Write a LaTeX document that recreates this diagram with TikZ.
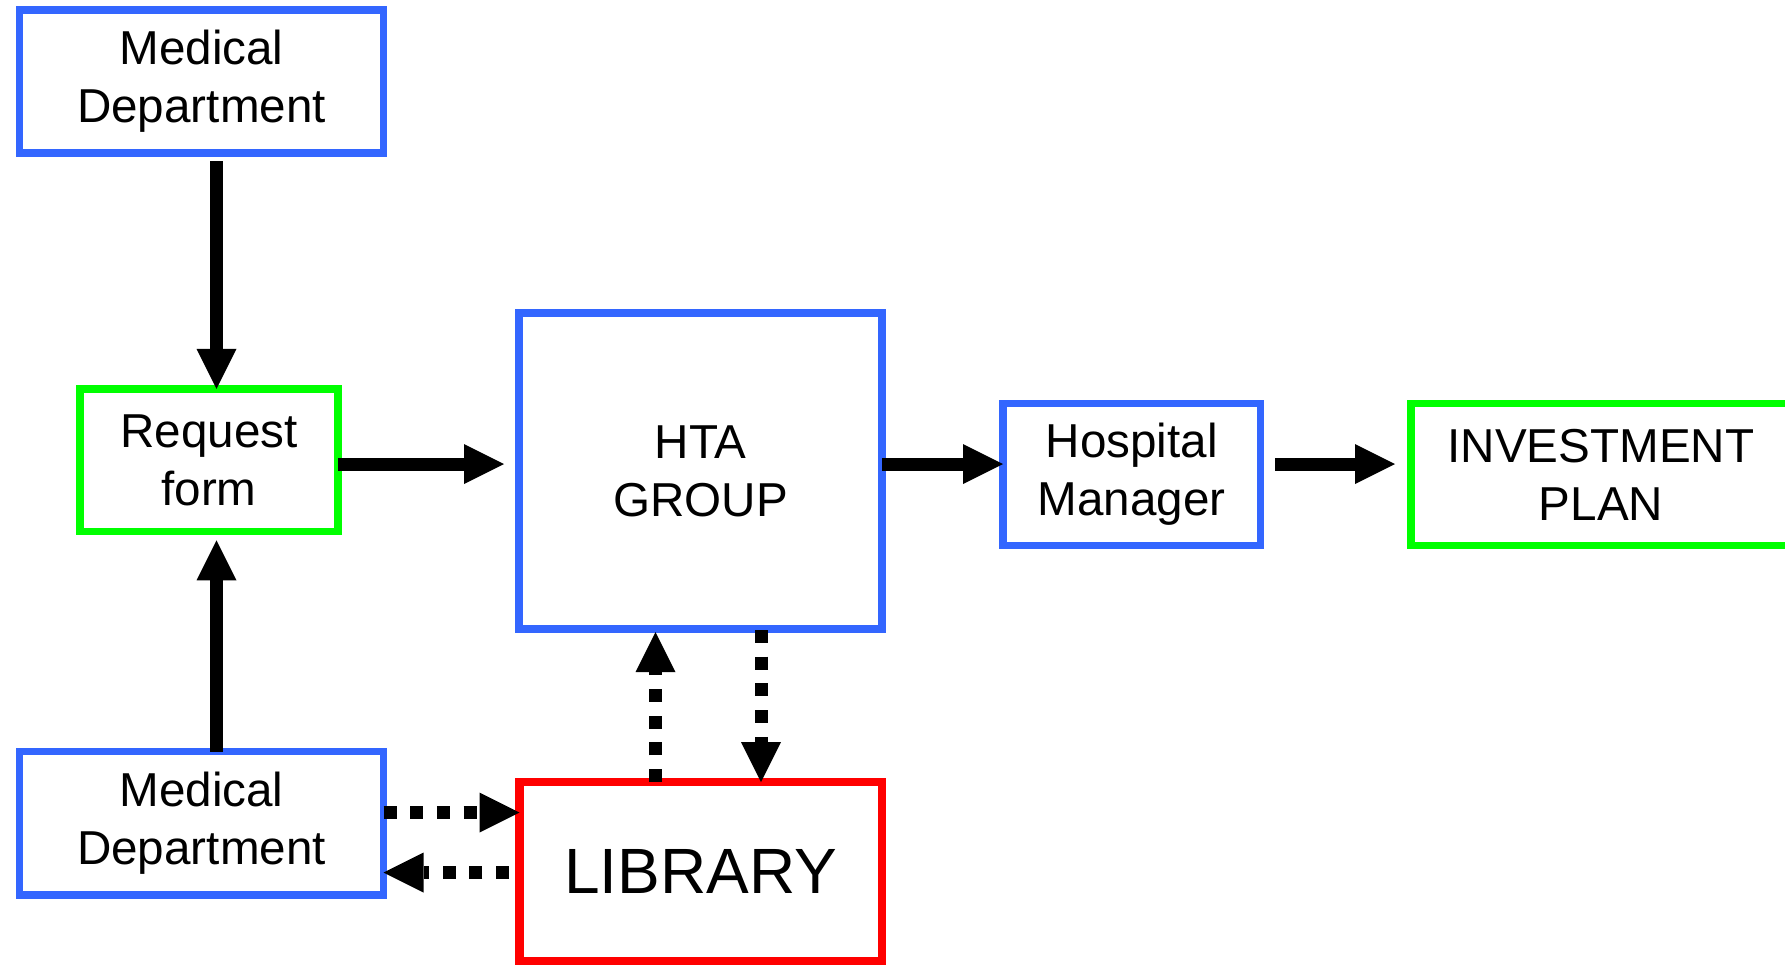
\documentclass[tikz,border=0pt]{standalone}
\usepackage{fontspec}
\setmainfont{Liberation Sans}
\usetikzlibrary{arrows.meta,calc}
\definecolor{bblue}{RGB}{51,102,255}
\definecolor{bgreen}{RGB}{0,255,0}
\definecolor{bred}{RGB}{255,0,0}
\tikzset{
  box/.style={draw, rectangle, outer sep=0pt, inner sep=0pt, align=center,
    font=\fontsize{23.8pt}{29pt}\selectfont, text=black},
  bluebox/.style={box, draw=bblue, line width=3.75pt},
  greenbox/.style={box, draw=bgreen, line width=3.75pt},
  redbox/.style={box, draw=bred, line width=4.25pt},
  arr/.style={line width=6.5pt, line cap=butt, black,
    -{Triangle[length=20pt,width=20pt,line width=0pt]}},
  dotarr/.style={arr, dash pattern=on 6.5pt off 6.85pt}
}
\begin{document}
\begin{tikzpicture}[x=0.5pt,y=-0.5pt]
\useasboundingbox (0,0) rectangle (1785,965);
\clip (0,0) rectangle (1785,965);
\fill[white] (0,0) rectangle (1785,965);

\node[bluebox, minimum width=182pt, minimum height=71.5pt] (md1) at (201.5,81.5) {\raisebox{-1.5pt}{Medical}\\\raisebox{-1.5pt}{Department}};
\node[greenbox, minimum width=129pt, minimum height=71.25pt] (req) at (209,460) {Request\\form};
\node[bluebox, minimum width=181.5pt, minimum height=158pt] (hta) at (700.5,471) {HTA\\GROUP};
\node[bluebox, minimum width=128.75pt, minimum height=71pt] (hm) at (1131.75,474.5) {Hospital\\Manager};
\node[greenbox, minimum width=190pt, minimum height=71pt] (ip) at (1601,474.5) {INVESTMENT\\PLAN};
\node[bluebox, minimum width=182pt, minimum height=71.75pt] (md2) at (201.5,823.25) {Medical\\Department};
\node[redbox, minimum width=181.25pt, minimum height=89.5pt, font=\fontsize{32pt}{38pt}\selectfont] (lib) at (700.75,871.5) {LIBRARY};

% solid arrows
\draw[arr] ($(md1.south)+(15,8)$) coordinate (s1) -- (s1 |- req.north);
\draw[arr] ($(md2.north)+(15,0)$) coordinate (s2) -- ($(s2 |- req.south)+(0,9)$);
\draw[arr] ($(req.east)+(0,4)$) coordinate (s3) -- ($(s3 -| hta.west)+(-15,0)$);
\draw[arr] ($(hta.east)+(0,-7)$) coordinate (s4) -- (s4 -| hm.west);
\draw[arr] ($(hm.east)+(14.5,-10.5)$) coordinate (s5) -- ($(s5 -| ip.west)+(-16,0)$);

% dotted arrows
\draw[dotarr] ($(md2.east)+(0,-10.75)$) coordinate (s6) -- (s6 -| lib.west);
\draw[dotarr] ($(lib.west)+(-10.5,1)$) coordinate (s7) -- (s7 -| md2.east);
\draw[dotarr] ($(lib.north)+(-45.25,0)$) coordinate (s8) -- ($(s8 |- hta.south)+(0,3)$);
\draw[dotarr] ($(hta.south)+(60.5,1)$) coordinate (s9) -- (s9 |- lib.north);
\end{tikzpicture}
\end{document}
